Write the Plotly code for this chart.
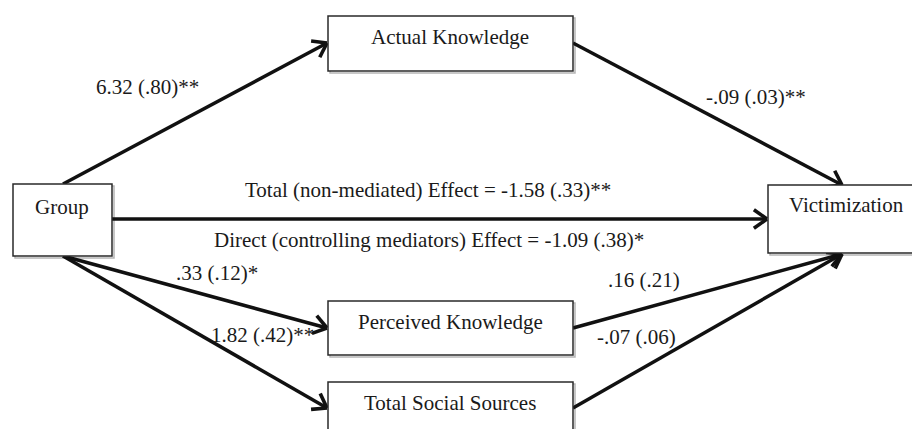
import math
import plotly.graph_objects as go

# ---- data ----
node_names = ["Group", "Actual Knowledge", "Perceived Knowledge", "Total Social Sources", "Victimization"]
path_from = ["Group", "Actual Knowledge", "Group", "Group", "Group", "Perceived Knowledge", "Total Social Sources"]
path_to = ["Actual Knowledge", "Victimization", "Victimization", "Perceived Knowledge", "Total Social Sources", "Victimization", "Victimization"]
path_labels = ["6.32 (.80)**", "-.09 (.03)**", "Total (non-mediated) Effect = -1.58 (.33)**",
               ".33 (.12)*", "1.82 (.42)**", ".16 (.21)", "-.07 (.06)"]
extra_labels = ["Direct (controlling mediators) Effect = -1.09 (.38)*"]

# ---- layout (pixel space) ----
W, H = 920, 429
OFF = 8  # default page body margin
boxes = {  # x0, y0, x1, y1, text y
    "Group": (13, 184, 112, 256, 207),
    "Actual Knowledge": (328, 16, 573, 71, 37),
    "Perceived Knowledge": (328, 301, 573, 355, 322),
    "Total Social Sources": (328, 382, 573, 445, 403),
    "Victimization": (768, 185, 935, 253, 205),
}
text_x = {"Group": 62, "Actual Knowledge": 450, "Perceived Knowledge": 450,
          "Total Social Sources": 450, "Victimization": 846}
arrow_pts = [((63, 184), (327, 43)), ((573, 43), (842, 185)), ((112, 219), (767, 219)),
             ((63, 256), (327, 328)), ((63, 256), (327, 408)), ((573, 328), (842, 254)),
             ((573, 408), (842, 254))]
label_pos = [(147, 87), (756, 97), (428, 190), (217, 273), (262, 335), (644, 280), (636, 337)]
extra_pos = [(429, 240)]

FONT = "Liberation Serif, Times New Roman, serif"
FS = 21
INK = "#1a1a1a"

fig = go.Figure()
shapes = []
for name in node_names:
    x0, y0, x1, y1, ty = boxes[name]
    shapes.append(dict(type="rect", x0=x0 + 2, y0=y0 + 2, x1=x1 + 2, y1=y1 + 2,
                       line=dict(color="#b5b5b5", width=1.5), fillcolor="rgba(0,0,0,0)", layer="below"))
    shapes.append(dict(type="rect", x0=x0, y0=y0, x1=x1, y1=y1,
                       line=dict(color="#2a2a2a", width=1.5), fillcolor="white"))

annotations = []
for name in node_names:
    annotations.append(dict(x=text_x[name], y=boxes[name][4], text=name, showarrow=False,
                            font=dict(family=FONT, size=FS, color=INK), xanchor="center", yanchor="middle"))

for (p0, p1) in arrow_pts:
    fig.add_trace(go.Scatter(x=[p0[0], p1[0]], y=[p0[1], p1[1]], mode="lines",
                             line=dict(color="#111", width=3.5), hoverinfo="skip", showlegend=False))
    ang = math.atan2(p1[1] - p0[1], p1[0] - p0[0])
    L = 16
    hx, hy = [], []
    for d in (math.radians(35), -math.radians(35)):
        hx += [p1[0] - L * math.cos(ang + d), p1[0], None]
        hy += [p1[1] - L * math.sin(ang + d), p1[1], None]
    fig.add_trace(go.Scatter(x=hx, y=hy, mode="lines", line=dict(color="#111", width=3.6),
                             hoverinfo="skip", showlegend=False))

for txt, (x, y) in zip(path_labels + extra_labels, label_pos + extra_pos):
    annotations.append(dict(x=x, y=y, text=txt, showarrow=False,
                            font=dict(family=FONT, size=FS, color=INK), xanchor="center", yanchor="middle"))

fig.update_layout(
    width=W, height=H, margin=dict(l=0, r=0, t=0, b=0),
    paper_bgcolor="white", plot_bgcolor="white",
    xaxis=dict(range=[OFF, W + OFF], visible=False, fixedrange=True),
    yaxis=dict(range=[H + OFF, OFF], visible=False, fixedrange=True),
    shapes=shapes, annotations=annotations, showlegend=False,
)
fig.write_html("out.html")
